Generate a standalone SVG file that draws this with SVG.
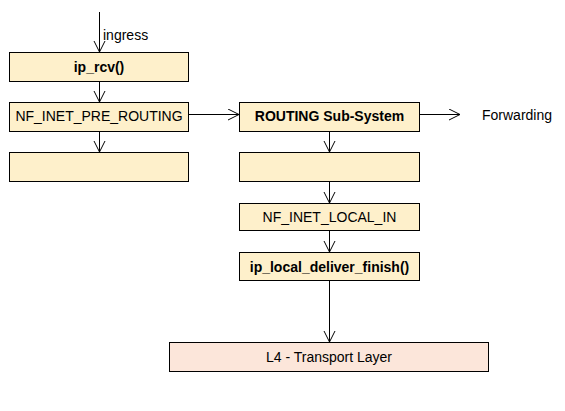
<svg xmlns="http://www.w3.org/2000/svg" width="565" height="411" viewBox="0 0 565 411">
<defs>
<style>
.n{fill:#FEF0CB;stroke:#000;stroke-width:1}
.l4{fill:#FCE6DA;stroke:#000;stroke-width:1}
.t{font-family:"Liberation Sans",Arial,sans-serif;font-size:14px;fill:#000;text-anchor:middle}
.b{font-weight:bold}
.c{stroke:#000;stroke-width:1;fill:none;marker-end:url(#v)}
</style>
<marker id="v" markerWidth="14" markerHeight="14" refX="11" refY="6" orient="auto" markerUnits="userSpaceOnUse">
<path d="M0,0.5 L11,6 L0,11.5" fill="none" stroke="#000" stroke-width="1"/>
</marker>
</defs>
<rect width="565" height="411" fill="#fff"/>
<g id="connectors">
<path class="c" d="M99.5,12 V52"/>
<path class="c" d="M99.5,81 V102"/>
<path class="c" d="M99.5,131 V152"/>
<path class="c" d="M188,114.5 H239"/>
<path class="c" d="M419,114.5 H460"/>
<path class="c" d="M329.5,131 V152"/>
<path class="c" d="M329.5,181 V203"/>
<path class="c" d="M329.5,230 V252"/>
<path class="c" d="M329.5,280 V342"/>
<text x="103" y="40" class="t" style="text-anchor:start">ingress</text>
<text x="482" y="120" class="t" style="text-anchor:start">Forwarding</text>
</g>
<g id="ip_rcv"><rect class="n" x="9.5" y="52.5" width="179" height="29"/><text class="t b" x="99" y="72">ip_rcv()</text></g>
<g id="pre_routing"><rect class="n" x="9.5" y="102.5" width="179" height="29"/><text class="t" x="99" y="121">NF_INET_PRE_ROUTING</text></g>
<g id="empty1"><rect class="n" x="9.5" y="152.5" width="179" height="29"/></g>
<g id="routing"><rect class="n" x="239.5" y="102.5" width="180" height="29"/><text class="t b" x="329.5" y="121">ROUTING Sub-System</text></g>
<g id="empty2"><rect class="n" x="239.5" y="152.5" width="180" height="29"/></g>
<g id="local_in"><rect class="n" x="239.5" y="203.5" width="180" height="27"/><text class="t" x="329.5" y="222">NF_INET_LOCAL_IN</text></g>
<g id="local_deliver"><rect class="n" x="239.5" y="252.5" width="180" height="28"/><text class="t b" x="329.5" y="271.5">ip_local_deliver_finish()</text></g>
<g id="l4"><rect class="l4" x="169.5" y="342.5" width="319" height="29"/><text class="t" x="329" y="362">L4 - Transport Layer</text></g>
</svg>
